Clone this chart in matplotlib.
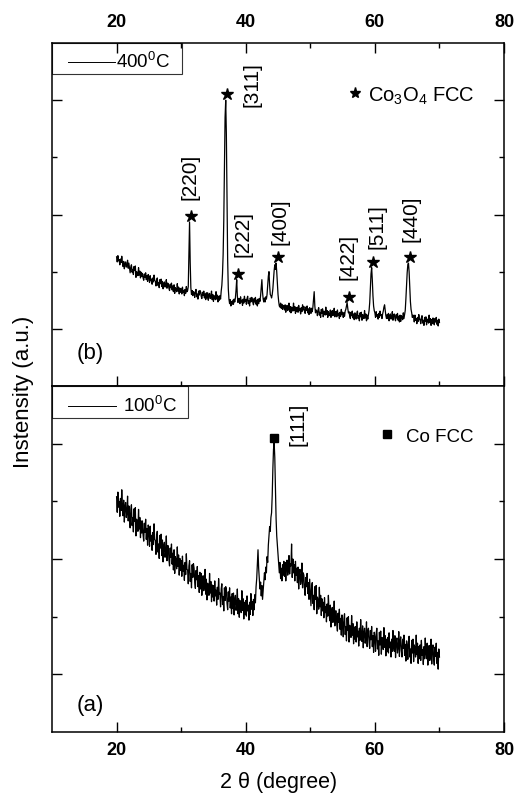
import numpy as np
import matplotlib
matplotlib.use('Agg')
import matplotlib.pyplot as plt
from matplotlib.patches import Rectangle
from matplotlib.transforms import offset_copy

plt.rcParams['font.family'] = ['Liberation Sans', 'DejaVu Sans']
plt.rcParams['mathtext.default'] = 'regular'

# --- XRD data, 2theta from 20 to 70 deg in 0.1 deg steps ---
two_theta = np.linspace(20, 70, 501)

int_400 = [
    1130, 1085, 1140, 1095, 1105, 1060, 1110, 1080, 1135, 1085,
    1045, 1090, 1025, 1070, 1085, 1040, 1055, 1100, 1030, 1075,
    1030, 990, 1040, 1060, 995, 1020, 975, 1045, 1010, 1050,
    950, 1000, 990, 965, 1035, 970, 1005, 945, 995, 960,
    985, 945, 925, 980, 950, 990, 930, 965, 915, 975,
    950, 905, 965, 920, 935, 890, 945, 910, 970, 925,
    915, 875, 925, 945, 880, 905, 860, 930, 895, 935,
    870, 915, 850, 895, 910, 865, 880, 930, 855, 900,
    895, 855, 835, 890, 860, 900, 840, 875, 825, 885,
    810, 860, 850, 825, 895, 830, 865, 805, 855, 820,
    850, 805, 865, 820, 835, 790, 845, 810, 870, 825,
    835, 870, 1150, 1435, 1080, 860, 800, 835, 790, 825,
    815, 775, 825, 845, 780, 805, 760, 830, 795, 835,
    825, 785, 765, 820, 790, 830, 770, 805, 755, 815,
    770, 815, 750, 795, 810, 765, 780, 830, 755, 800,
    740, 790, 780, 755, 825, 760, 795, 735, 785, 750,
    790, 760, 830, 880, 980, 1150, 1450, 1900, 2350, 2500,
    2200, 1600, 1100, 850, 760, 720, 755, 700, 740, 715,
    750, 715, 760, 735, 770, 840, 930, 790, 730, 765,
    765, 720, 780, 735, 750, 705, 760, 725, 785, 740,
    755, 715, 765, 785, 720, 745, 700, 770, 735, 775,
    770, 730, 710, 765, 735, 775, 715, 750, 700, 760,
    720, 765, 740, 790, 860, 930, 820, 760, 735, 770,
    735, 780, 760, 800, 880, 960, 1000, 880, 800, 790,
    770, 800, 850, 930, 1010, 1060, 1020, 1075, 1000, 900,
    800, 740, 700, 690, 725, 680, 715, 670, 705, 690,
    665, 710, 645, 690, 705, 660, 675, 725, 650, 695,
    640, 690, 680, 655, 725, 660, 695, 635, 685, 650,
    690, 645, 705, 660, 675, 630, 685, 650, 710, 665,
    695, 655, 635, 690, 660, 700, 640, 675, 625, 685,
    670, 635, 680, 650, 690, 760, 825, 700, 640, 665,
    655, 615, 665, 685, 620, 645, 600, 670, 635, 675,
    605, 655, 645, 620, 690, 625, 660, 600, 650, 615,
    620, 665, 600, 645, 660, 615, 630, 680, 605, 650,
    650, 605, 665, 620, 635, 590, 645, 610, 670, 625,
    645, 600, 640, 610, 655, 670, 700, 730, 680, 640,
    650, 610, 590, 645, 615, 655, 595, 630, 580, 640,
    625, 585, 635, 655, 590, 615, 570, 640, 605, 645,
    575, 625, 615, 590, 660, 595, 630, 570, 620, 585,
    620, 660, 730, 850, 980, 1035, 930, 790, 700, 660,
    640, 600, 650, 610, 625, 585, 635, 600, 655, 615,
    625, 590, 630, 655, 690, 710, 660, 615, 590, 625,
    590, 635, 570, 615, 630, 585, 600, 650, 575, 620,
    630, 590, 570, 625, 595, 635, 575, 610, 560, 620,
    565, 615, 605, 580, 640, 590, 625, 660, 760, 880,
    990, 1060, 1075, 1000, 860, 740, 670, 640, 600, 620,
    605, 560, 620, 575, 590, 545, 600, 565, 625, 580,
    585, 545, 595, 615, 550, 575, 530, 600, 565, 605,
    535, 585, 575, 550, 620, 555, 590, 530, 580, 545,
    595, 555, 535, 590, 560, 600, 540, 575, 525, 585,
    555,
]

int_100 = [
    2040, 1905, 2080, 1950, 2000, 1870, 2025, 1920, 2100, 1965,
    1875, 2010, 1820, 1955, 1990, 1860, 1905, 2045, 1830, 1960,
    1890, 1770, 1925, 1970, 1790, 1860, 1735, 1935, 1825, 1945,
    1700, 1845, 1815, 1740, 1930, 1760, 1860, 1685, 1830, 1725,
    1830, 1710, 1655, 1810, 1730, 1845, 1670, 1765, 1620, 1795,
    1745, 1610, 1785, 1655, 1705, 1575, 1730, 1625, 1805, 1670,
    1660, 1540, 1695, 1740, 1560, 1630, 1505, 1705, 1595, 1715,
    1530, 1665, 1475, 1610, 1645, 1515, 1560, 1700, 1485, 1615,
    1615, 1495, 1440, 1595, 1515, 1630, 1455, 1550, 1405, 1580,
    1375, 1520, 1490, 1415, 1605, 1435, 1535, 1360, 1505, 1400,
    1485, 1350, 1525, 1395, 1445, 1315, 1470, 1365, 1545, 1410,
    1405, 1285, 1440, 1485, 1305, 1375, 1250, 1450, 1340, 1460,
    1420, 1300, 1245, 1400, 1320, 1435, 1260, 1355, 1210, 1385,
    1240, 1375, 1185, 1320, 1355, 1225, 1270, 1410, 1195, 1325,
    1145, 1290, 1260, 1185, 1375, 1205, 1305, 1130, 1275, 1170,
    1270, 1135, 1310, 1180, 1230, 1100, 1255, 1150, 1330, 1195,
    1205, 1085, 1240, 1285, 1105, 1175, 1050, 1250, 1140, 1260,
    1235, 1115, 1060, 1215, 1135, 1250, 1075, 1170, 1025, 1200,
    1070, 1205, 1015, 1150, 1185, 1055, 1100, 1240, 1025, 1155,
    995, 1140, 1110, 1035, 1225, 1055, 1155, 980, 1125, 1020,
    1140, 1005, 1180, 1050, 1100, 970, 1125, 1020, 1200, 1065,
    1130, 1010, 1150, 1060, 1190, 1120, 1260, 1330, 1450, 1580,
    1420, 1330, 1240, 1300, 1180, 1270, 1150, 1230, 1300, 1380,
    1320, 1430, 1380, 1520, 1470, 1620, 1700, 1780, 1740, 1860,
    1900, 2050, 2280, 2450, 2510, 2380, 2100, 1850, 1700, 1620,
    1540, 1460, 1380, 1470, 1330, 1420, 1310, 1450, 1360, 1480,
    1350, 1470, 1310, 1430, 1490, 1360, 1400, 1530, 1370, 1460,
    1440, 1630, 1340, 1500, 1380, 1450, 1310, 1480, 1360, 1420,
    1295, 1430, 1240, 1375, 1410, 1280, 1325, 1465, 1250, 1380,
    1360, 1240, 1185, 1340, 1260, 1375, 1200, 1295, 1150, 1325,
    1215, 1095, 1250, 1295, 1115, 1185, 1060, 1260, 1150, 1270,
    1025, 1170, 1140, 1065, 1255, 1085, 1185, 1010, 1155, 1050,
    1125, 990, 1165, 1035, 1085, 955, 1110, 1005, 1185, 1050,
    965, 1100, 910, 1045, 1080, 950, 995, 1135, 920, 1050,
    1050, 930, 875, 1030, 950, 1065, 890, 985, 840, 1015,
    945, 825, 980, 1025, 845, 915, 790, 990, 880, 1000,
    780, 925, 895, 820, 1010, 840, 940, 765, 910, 805,
    915, 780, 955, 825, 875, 745, 900, 795, 975, 840,
    785, 920, 730, 865, 900, 770, 815, 955, 740, 870,
    900, 780, 725, 880, 800, 915, 740, 835, 690, 865,
    820, 700, 855, 900, 720, 790, 665, 865, 755, 875,
    675, 820, 790, 715, 905, 735, 835, 660, 805, 700,
    820, 685, 860, 730, 780, 650, 805, 700, 880, 745,
    700, 835, 645, 780, 815, 685, 730, 870, 655, 785,
    825, 705, 650, 805, 725, 840, 665, 760, 615, 790,
    750, 630, 785, 830, 650, 720, 595, 795, 685, 805,
    610, 755, 725, 650, 840, 670, 770, 595, 740, 635,
    755, 620, 795, 665, 715, 585, 740, 635, 815, 680,
    635, 770, 580, 715, 750, 620, 665, 805, 590, 720,
    755, 635, 580, 735, 655, 770, 595, 690, 545, 720,
    650,
]

# peak positions (2theta) and Miller indices
peaks_400 = [31.3, 36.9, 38.6, 44.7, 55.7, 59.5, 65.2]
hkl_400 = ['[220]', '[311]', '[222]', '[400]', '[422]', '[511]', '[440]']
peaks_100 = [44.4]
hkl_100 = ['[111]']

x_ticks = [20, 40, 60, 80]
x_tick_labels = ['20', '40', '60', '80']
x_minor = [30, 50, 70]
y_ticks = [500, 1500, 2500]
y_minor = [1000, 2000]

two_theta = np.round(two_theta, 1)
int_400 = np.array(int_400)
int_100 = np.array(int_100)


def peak_top(x0, y):
    sel = np.abs(two_theta - x0) <= 0.15
    return y[sel].max()


fig = plt.figure(figsize=(5.15, 7.98), dpi=100)
ax_b = fig.add_axes([0.101, 0.5163, 0.8777, 0.4298])
ax_a = fig.add_axes([0.101, 0.0827, 0.8777, 0.4336])

for ax, y in ((ax_b, int_400), (ax_a, int_100)):
    ax.plot(two_theta, y, color='black', lw=0.9)
    ax.set_xlim(10, 80)
    ax.set_ylim(0, 3000)
    ax.set_xticks(x_ticks)
    ax.set_xticks(x_minor, minor=True)
    ax.set_xticklabels(x_tick_labels, fontweight='bold', fontsize=13)
    ax.set_yticks(y_ticks)
    ax.set_yticks(y_minor, minor=True)
    ax.tick_params(which='both', direction='in', left=True, right=True,
                   labelleft=False, width=1, colors='black')
    ax.tick_params(which='major', length=7)
    ax.tick_params(which='minor', length=3.5)
    for s in ax.spines.values():
        s.set_linewidth(1.1)

ax_b.tick_params(axis='x', which='both', top=True, bottom=True,
                 labeltop=True, labelbottom=False, pad=9)
ax_a.tick_params(axis='x', which='both', top=False, bottom=True,
                 labelbottom=True, pad=7)

# --- peak markers & labels, top panel ---
star_tr = offset_copy(ax_b.transData, fig=fig, x=1.5, y=6, units='dots')
label_off = [(0.5, 22, 'bottom'), (26, 16, 'center'), (6, 23, 'bottom'),
             (4, 18, 'bottom'), (1, 23, 'bottom'), (5, 19, 'bottom'),
             (3, 21, 'bottom')]
for px, lab, (dx, dy, va) in zip(peaks_400, hkl_400, label_off):
    top = peak_top(px, int_400)
    ax_b.plot(px, top, marker='*', ms=9, color='black', transform=star_tr)
    ax_b.annotate(lab, xy=(px, top), xytext=(dx, dy), textcoords='offset pixels',
                  rotation=90, ha='center', va=va, fontsize=15)

sq_tr = offset_copy(ax_a.transData, fig=fig, x=0, y=5, units='dots')
for px, lab in zip(peaks_100, hkl_100):
    top = peak_top(px, int_100)
    ax_a.plot(px, top, marker='s', ms=5.5, color='black', transform=sq_tr)
    ax_a.annotate(lab, xy=(px, top), xytext=(24, 18), textcoords='offset pixels',
                  rotation=90, ha='center', va='center', fontsize=15)

# --- legend-like boxes ---
ax_b.add_patch(Rectangle((0, 0.909), 0.288, 0.091, transform=ax_b.transAxes,
                         fill=False, edgecolor='#333333', lw=0.8))
ax_b.plot([0.0354, 0.1394], [0.9446, 0.9446], color='black', lw=0.7,
          transform=ax_b.transAxes)
ax_b.text(0.1416, 0.9446, '400$^{0}$C', transform=ax_b.transAxes,
          ha='left', va='center', fontsize=13.5)

ax_a.add_patch(Rectangle((0, 0.9075), 0.301, 0.0925, transform=ax_a.transAxes,
                         fill=False, edgecolor='#333333', lw=0.8))
ax_a.plot([0.0354, 0.1416], [0.942, 0.942], color='black', lw=0.7,
          transform=ax_a.transAxes)
ax_a.text(0.1571, 0.942, '100$^{0}$C', transform=ax_a.transAxes,
          ha='left', va='center', fontsize=13.5)

# phase keys
ax_b.plot(0.670, 0.854, marker='*', ms=8, color='black', transform=ax_b.transAxes)
ax_b.text(0.699, 0.828, 'Co$_{3}$O$_{4}$ FCC', transform=ax_b.transAxes,
          ha='left', va='baseline', fontsize=14.5)
ax_a.plot(0.741, 0.861, marker='s', ms=5.5, color='black', transform=ax_a.transAxes)
ax_a.text(0.783, 0.838, 'Co FCC', transform=ax_a.transAxes,
          ha='left', va='baseline', fontsize=13.5)

ax_b.text(0.055, 0.096, '(b)', transform=ax_b.transAxes, ha='left', va='center',
          fontsize=16)
ax_a.text(0.055, 0.078, '(a)', transform=ax_a.transAxes, ha='left', va='center',
          fontsize=16)

fig.text(0.045, 0.509, 'Instensity (a.u.)', rotation=90, ha='center',
         va='center', fontsize=16)
fig.text(0.54, 0.019, '2 \u03b8 (degree)', ha='center', va='center', fontsize=15.5)

fig.savefig('out.png', dpi=100)
